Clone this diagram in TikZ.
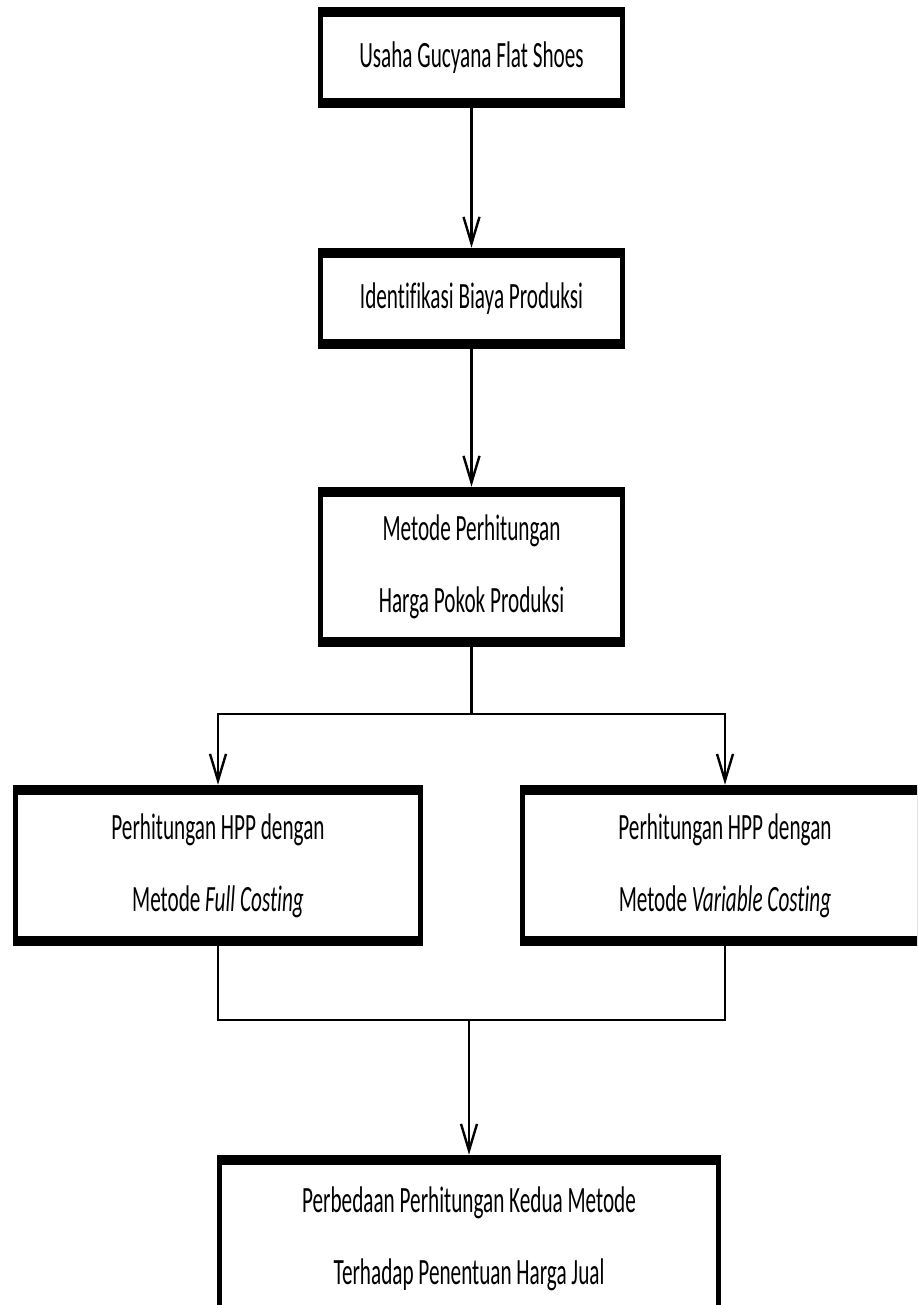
\documentclass[tikz,border=0pt]{standalone}
\usepackage{fontspec}
\setmainfont{Carlito}[Ligatures=NoCommon]
\usetikzlibrary{arrows.meta}
\newdimen\pxu \pxu=0.75pt
\newcommand{\twolines}[2]{\scalebox{1}[1.75]{\vbox{\baselineskip=30.9pt\halign{\hfil##\hfil\cr #1\cr #2\cr}}}}
\newcommand{\oneline}[1]{\scalebox{1}[1.75]{#1}}
\begin{document}
\begin{tikzpicture}[x=0.75pt,y=-0.75pt,
  flowbox/.style={rectangle, inner sep=0pt, font=\fontsize{15.9}{19}\selectfont,
    path picture={
      \fill[black] (path picture bounding box.south west) rectangle (path picture bounding box.north east);
      \fill[white] ([xshift=3.75pt,yshift=7.5pt]path picture bounding box.south west) rectangle ([xshift=-3.75pt,yshift=-7.5pt]path picture bounding box.north east);
    }},
  conn/.style={line width=1.8pt},
  arr/.style={conn,-{Straight Barb[length=20pt,width=12pt,line width=1.8pt]}}]
\useasboundingbox (0,0) rectangle (917,1305);
\clip (0,0) rectangle (917,1305);
\fill[white] (0,0) rectangle (917,1305);

\node[flowbox, minimum width=307\pxu, minimum height=101\pxu] (b1) at (471.5,57.5) {\oneline{Usaha Gucyana Flat Shoes}};
\node[flowbox, minimum width=307\pxu, minimum height=101\pxu] (b2) at (471.5,298.5) {\oneline{Identifikasi Biaya Produksi}};
\node[flowbox, minimum width=307\pxu, minimum height=160\pxu] (b3) at (471.5,567) {\twolines{Metode Perhitungan}{Harga Pokok Produksi}};
\node[flowbox, minimum width=410\pxu, minimum height=161\pxu] (b4) at (218,865.5) {\twolines{Perhitungan HPP dengan}{Metode \textit{Full Costing}}};
\node[flowbox, minimum width=410\pxu, minimum height=161\pxu] (b5) at (725,865.5) {\twolines{Perhitungan HPP dengan}{Metode \textit{Variable Costing}}};
\node[flowbox, minimum width=504\pxu, minimum height=168\pxu] (b6) at (469,1239) {\twolines{Perbedaan Perhitungan Kedua Metode}{Terhadap Penentuan Harga Jual}};

\coordinate (sp) at (471.5,714);
\coordinate (mg) at (469,1020);

\draw[arr] (b1) -- (b2);
\draw[arr] (b2) -- (b3);
\draw[conn] (b3.south) -- (sp);
\draw[arr] (sp) -| (b4.north);
\draw[arr] (sp) -| (b5.north);
\draw[conn] (b4.south) |- (mg);
\draw[conn] (b5.south) |- (mg);
\draw[arr] (mg) -- (b6.north);
\end{tikzpicture}
\end{document}
